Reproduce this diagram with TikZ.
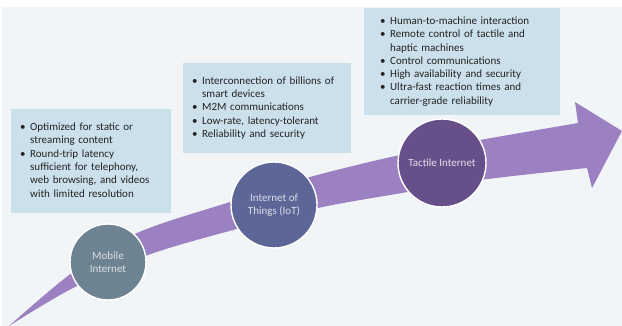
\documentclass[tikz,border=0pt]{standalone}
\usepackage{fontspec}
\setmainfont{Carlito}

\definecolor{bgcol}{HTML}{F2F5F8}
\definecolor{boxblue}{HTML}{CCE0EC}
\definecolor{arrowcol}{HTML}{9B81C2}
\definecolor{mobcol}{HTML}{6E8391}
\definecolor{iotcol}{HTML}{5D6797}
\definecolor{taccol}{HTML}{674F8A}
\definecolor{textgray}{HTML}{222222}

\begin{document}
\begin{tikzpicture}[x=1pt, y=-1pt,
  infobox/.style={anchor=north west, fill=boxblue, inner ysep=0pt,
    align=left, text=textgray, font=\fontsize{11}{13.3}\selectfont},
  stage/.style={circle, draw=white, line width=1.4pt, inner sep=0pt,
    align=center, font=\fontsize{11}{13}\selectfont}]

\useasboundingbox (0,0) rectangle (622,326);

% background
\fill[white] (0,0) rectangle (622,326);
\fill[bgcol] (2,7) rectangle (622,326);

% upper edge of the arrow
\coordinate (u0) at (9,326);
\coordinate (u1) at (73,272);
\coordinate (u2) at (137,233);
\coordinate (u3) at (230,202);
\coordinate (u4) at (310,177);
\coordinate (u5) at (400,155);
\coordinate (u6) at (480,140);
\coordinate (u7) at (578,123);

% lower edge of the arrow
\coordinate (l1) at (73,288);
\coordinate (l2) at (148,255);
\coordinate (l3) at (233,230);
\coordinate (l4) at (318,208);
\coordinate (l5) at (402,193);
\coordinate (l6) at (480,180);
\coordinate (l7) at (587,168);

% head
\coordinate (h1) at (575,102);
\coordinate (tip) at (622,131);
\coordinate (h2) at (592,188);

\fill[arrowcol] plot[smooth, tension=0.55] coordinates
  {(u0) (u1) (u2) (u3) (u4) (u5) (u6) (u7)}
  -- (h1) -- (tip) -- (h2) -- (l7)
  -- plot[smooth, tension=0.55] coordinates
  {(l7) (l6) (l5) (l4) (l3) (l2) (l1) (u0)} -- cycle;

% boxes
\node[infobox, minimum width=160pt, minimum height=104pt,
  text width=142pt, inner xsep=9pt] (mobbox) at (11,109) {%
  \begin{tabular}{@{}l@{\hspace{4.5pt}}l@{}}
  \textbullet & Optimized for static or\\
              & streaming content\\
  \textbullet & Round-trip latency\\
              & sufficient for telephony,\\
              & web browsing, and videos\\
              & with limited resolution
  \end{tabular}};

\node[infobox, minimum width=168pt, minimum height=90pt,
  text width=150pt, inner xsep=9pt] (iotbox) at (183,63) {%
  \begin{tabular}{@{}l@{\hspace{4.5pt}}l@{}}
  \textbullet & Interconnection of billions of\\
              & smart devices\\
  \textbullet & M2M communications\\
  \textbullet & Low-rate, latency-tolerant\\
  \textbullet & Reliability and security
  \end{tabular}};

\node[infobox, minimum width=196pt, minimum height=107pt,
  text width=164pt, inner xsep=16pt] (tacbox) at (364,8) {%
  \begin{tabular}{@{}l@{\hspace{4.5pt}}l@{}}
  \textbullet & Human-to-machine interaction\\
  \textbullet & Remote control of tactile and\\
              & haptic machines\\
  \textbullet & Control communications\\
  \textbullet & High availability and security\\
  \textbullet & Ultra-fast reaction times and\\
              & carrier-grade reliability
  \end{tabular}};

% stages
\node[stage, fill=mobcol, text=mobcol!25, minimum size=76pt] (mobile)
  at (108,262) {Mobile\\Internet};
\node[stage, fill=iotcol, text=iotcol!22, minimum size=86pt] (iot)
  at (274,205) {Internet of\\Things (IoT)};
\node[stage, fill=taccol, text=taccol!18, minimum size=88pt] (tactile)
  at (442,163) {Tactile Internet};
\end{tikzpicture}
\end{document}
